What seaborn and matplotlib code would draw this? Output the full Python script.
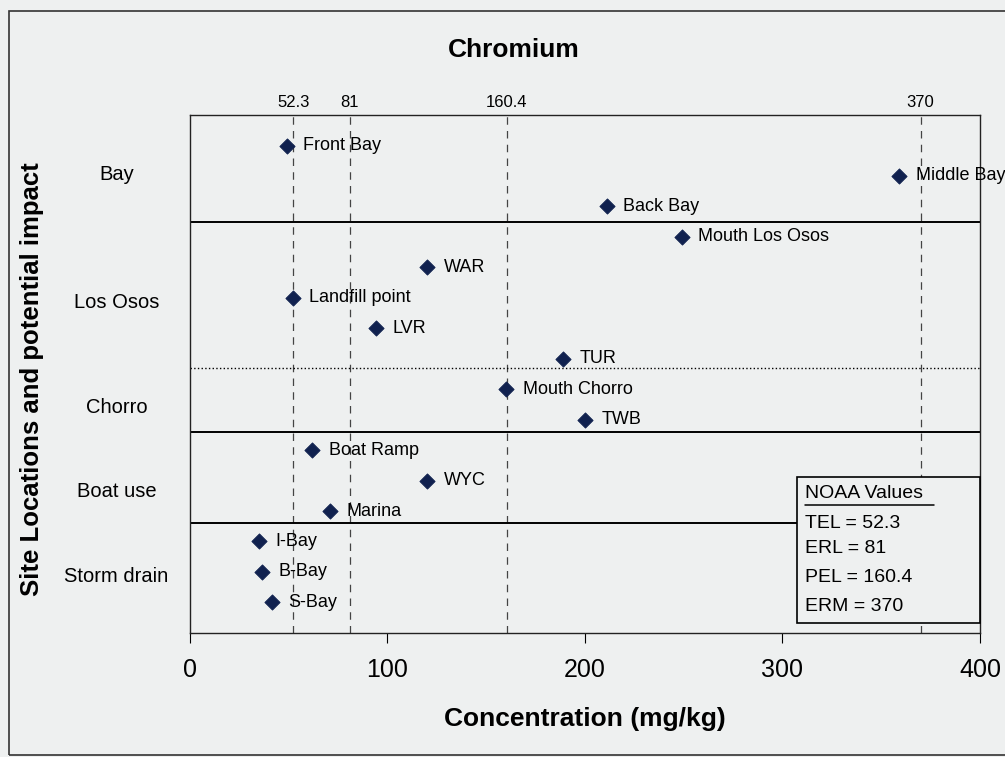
import matplotlib
matplotlib.use("Agg")

import matplotlib.pyplot as plt
import seaborn as sns
import pandas as pd
import numpy as np
from matplotlib.lines import Line2D
from matplotlib.patches import Rectangle

# ── Data ────────────────────────────────────────────────────────────────────
sites = ["Front Bay", "Middle Bay", "Back Bay", "Mouth Los Osos", "WAR",
         "Landfill point", "LVR", "TUR", "Mouth Chorro", "TWB",
         "Boat Ramp", "WYC", "Marina", "I-Bay", "B-Bay", "S-Bay"]
chromium = [49, 359, 211, 249, 120, 52, 94, 189, 160, 200,
            62, 120, 71, 35, 36.5, 41.5]

groups = ["Bay", "Los Osos", "Chorro", "Boat use", "Storm drain"]
group_pos = [15.1, 10.9, 7.45, 4.7, 1.9]
group_breaks = [13.5, 8.7, 6.6, 3.6]
break_styles = ["-", ":", "-", "-"]

noaa_names = ["TEL", "ERL", "PEL", "ERM"]
noaa_values = [52.3, 81, 160.4, 370]

x_ticks = [0, 100, 200, 300, 400]

# ── Style ───────────────────────────────────────────────────────────────────
BG = "#eef0f0"
NAVY = "#10214f"
FONT = "Liberation Sans"

sns.set_style("white")
plt.rcParams.update({
    "font.family": FONT,
    "figure.facecolor": BG,
    "axes.facecolor": BG,
    "axes.edgecolor": "#222222",
    "axes.labelcolor": "black",
    "xtick.color": "black",
    "ytick.color": "black",
    "text.color": "black",
})

df = pd.DataFrame({"site": sites, "chromium": chromium})
df["row"] = np.arange(len(sites), 0, -1)

fig, ax = plt.subplots(figsize=(10.05, 7.57), dpi=100)
fig.subplots_adjust(left=0.189, right=0.975, bottom=0.164, top=0.848)

# NOAA guideline lines
for v in noaa_values:
    ax.axvline(v, color="#444444", lw=0.9, ls=(0, (6, 5)), zorder=1)

# group separators
for b, st in zip(group_breaks, break_styles):
    ax.axhline(b, color="black", lw=1.4 if st == "-" else 1.0, ls=st, zorder=1)

sns.scatterplot(data=df, x="chromium", y="row", marker="D", s=60,
                color=NAVY, edgecolor=NAVY, ax=ax, zorder=3, legend=False)

for _, r in df.iterrows():
    ax.annotate(r["site"], (r["chromium"], r["row"]), textcoords="offset points",
                xytext=(12, 0), va="center", ha="left", fontsize=13,
                annotation_clip=False)

ax.set_xlim(0, 400)
ax.set_ylim(0, 17)
ax.set_xticks(x_ticks)
ax.tick_params(axis="x", labelsize=18, length=7, direction="out", pad=11, bottom=True)
ax.set_yticks(group_pos)
ax.set_yticklabels(groups, fontsize=14.5, ha="center")
ax.tick_params(axis="y", length=0, pad=53)

ax.set_xlabel("Concentration (mg/kg)", fontsize=19, fontweight="bold")
ax.xaxis.set_label_coords(0.5, -0.143)
ax.set_ylabel("Site Locations and potential impact", fontsize=18.5, fontweight="bold")
ax.yaxis.set_label_coords(-0.185, 0.49)

for sp in ax.spines.values():
    sp.set_visible(True)
    sp.set_color("#222222")
    sp.set_linewidth(1.0)

# NOAA values on top
top = ax.twiny()
top.set_xlim(ax.get_xlim())
top.set_xticks(noaa_values)
top.set_xticklabels([f"{v:g}" for v in noaa_values], fontsize=12)
top.tick_params(axis="x", length=0, pad=4)
for sp in top.spines.values():
    sp.set_visible(False)

fig.text(514 / 1005, 1 - 50 / 757, "Chromium", fontsize=19, fontweight="bold",
         ha="center", va="center")

# NOAA values box
ax.add_patch(Rectangle((0.768, 0.019), 0.232, 0.282, transform=ax.transAxes,
                       facecolor=BG, edgecolor="black", lw=1.2, zorder=5,
                       clip_on=False))
lines = ["NOAA Values"] + [f"{n} = {v:g}" for n, v in zip(noaa_names, noaa_values)]
ys = [0.270, 0.212, 0.162, 0.106, 0.050]
for txt, y in zip(lines, ys):
    ax.text(0.778, y, txt, transform=ax.transAxes, fontsize=14,
            va="center", ha="left", zorder=6)
ax.add_line(Line2D([0.778, 0.942], [0.247, 0.247], transform=ax.transAxes,
                   color="black", lw=1.1, zorder=6))

# outer chart-area frame
fig.add_artist(Rectangle((0.009, 0.003), 1.1, 0.9825, transform=fig.transFigure,
                         fill=False, edgecolor="#333333", lw=1.2))

fig.savefig("out.png", dpi=100, facecolor=BG)
